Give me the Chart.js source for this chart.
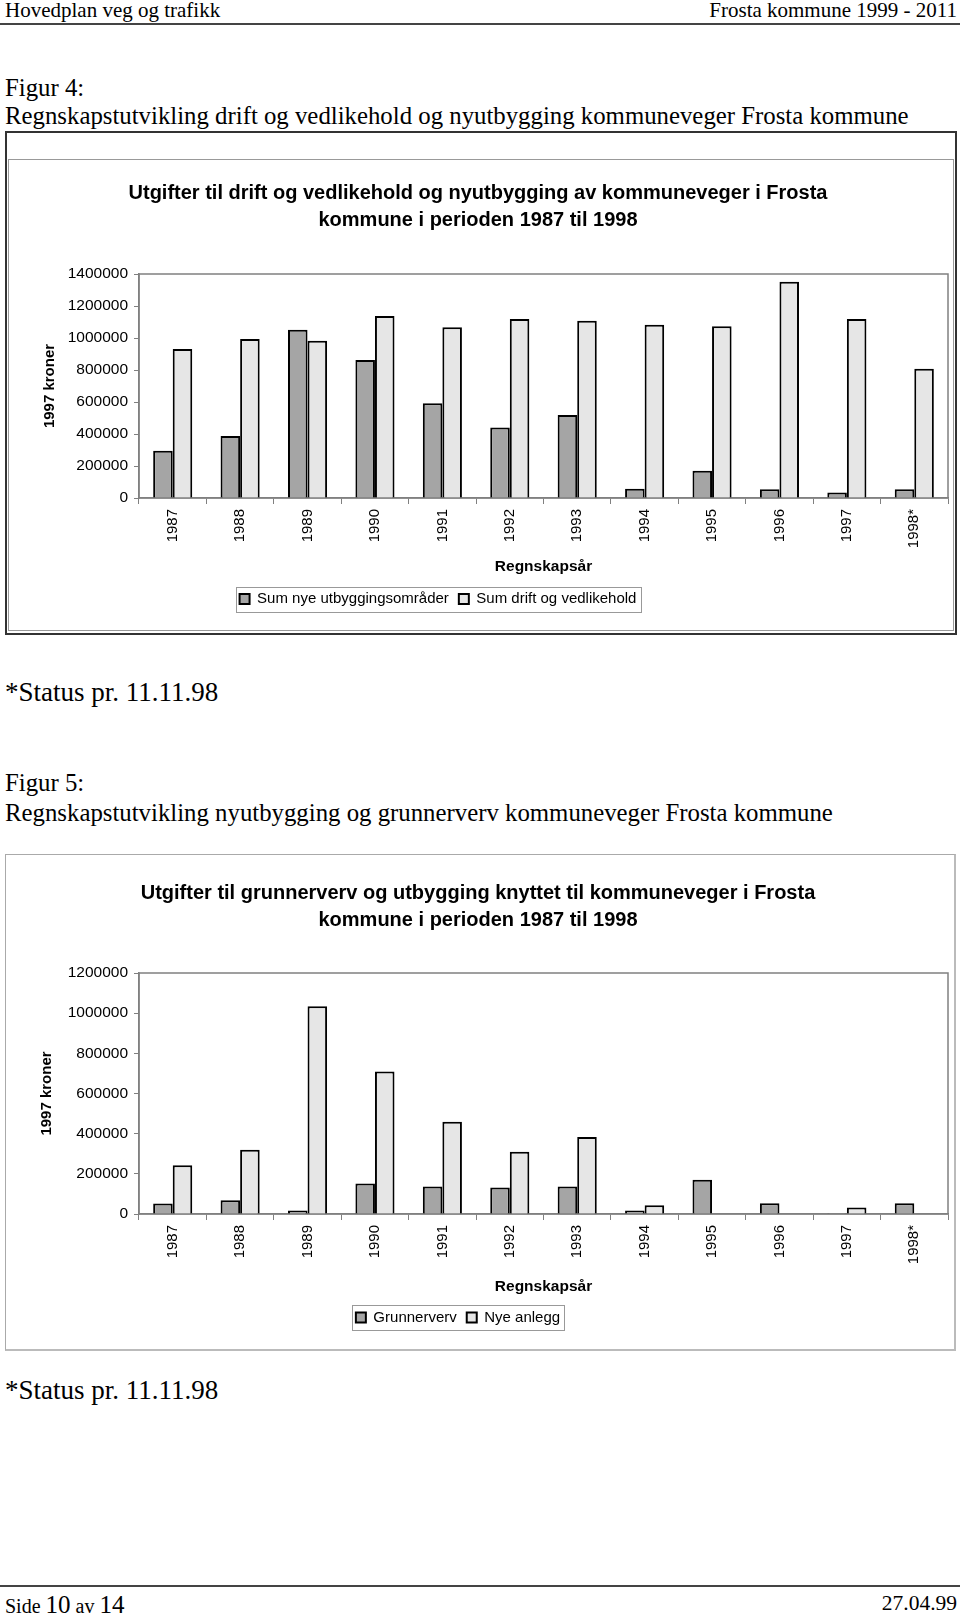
<!DOCTYPE html>
<html>
<head>
<meta charset="utf-8">
<script src="https://cdn.jsdelivr.net/npm/chart.js@4.4.0/dist/chart.umd.min.js"></script>
<style>
    body { margin: 0; width: 960px; height: 1613px; position: relative; overflow: hidden; background: #fff; color: #000;
           font-family: 'Liberation Serif', 'Times New Roman', serif; }
    .txt { position: absolute; white-space: nowrap; line-height: 1; }
    .rule { position: absolute; left: 0; width: 960px; height: 2px; background: #444; }
    canvas { position: absolute; }
</style>
</head>
<body>
<div class="txt" style="left:5px;top:0px;font-size:21px">Hovedplan veg og trafikk</div>
<div class="txt" style="right:3px;top:0px;font-size:21px">Frosta kommune 1999 - 2011</div>
<div class="rule" style="top:23px"></div>

<div class="txt" style="left:5px;top:76px;font-size:24.8px">Figur 4:</div>
<div class="txt" style="left:5px;top:104px;font-size:24.8px">Regnskapstutvikling drift og vedlikehold og nyutbygging kommuneveger Frosta kommune</div>

<div style="position:absolute;left:5px;top:131px;width:948px;height:500px;border:2px solid #333"></div>
<div style="position:absolute;left:8px;top:159px;width:944px;height:470px;border:1px solid #999"></div>
<canvas id="chart1" width="946" height="470" style="left:8px;top:160px"></canvas>

<div class="txt" style="left:5px;top:679px;font-size:27px">*Status pr. 11.11.98</div>

<div class="txt" style="left:5px;top:771px;font-size:24.8px">Figur 5:</div>
<div class="txt" style="left:5px;top:801px;font-size:24.8px">Regnskapstutvikling nyutbygging og grunnerverv kommuneveger Frosta kommune</div>

<div style="position:absolute;left:5px;top:854px;width:948px;height:494px;border:1px solid #aaa;border-right:2px solid #bbb;border-bottom:2px solid #bbb"></div>
<canvas id="chart2" width="946" height="490" style="left:8px;top:856px"></canvas>

<div class="txt" style="left:5px;top:1377px;font-size:27px">*Status pr. 11.11.98</div>

<div class="rule" style="top:1585px"></div>
<div class="txt" style="left:5px;top:1592px;font-size:20px">Side <span style="font-size:25px">10</span> av <span style="font-size:25px">14</span></div>
<div class="txt" style="right:3px;top:1593px;font-size:21.5px">27.04.99</div>

<script>
// Regnskapsår (x-akse)
const years = ['1987', '1988', '1989', '1990', '1991', '1992', '1993', '1994', '1995', '1996', '1997', '1998*'];

// Figur 4 - 1997 kroner
const nyeUtbygging = [295000, 387000, 1052000, 862000, 592000, 440000, 519000, 58000, 171000, 54000, 35000, 54000];
const driftVedlikehold = [931000, 994000, 983000, 1137000, 1067000, 1119000, 1108000, 1083000, 1073000, 1352000, 1119000, 808000];
const yTicks1 = [0, 200000, 400000, 600000, 800000, 1000000, 1200000, 1400000];

// Figur 5 - 1997 kroner
const grunnerverv = [52000, 68000, 18000, 152000, 137000, 132000, 137000, 17000, 170000, 53000, 4000, 53000];
const nyeAnlegg = [243000, 320000, 1035000, 709000, 459000, 310000, 384000, 43000, 0, 0, 32000, 0];
const yTicks2 = [0, 200000, 400000, 600000, 800000, 1000000, 1200000];

const darkGrey = '#a5a5a5';
const lightGrey = '#e6e6e6';
const axisGrey = '#808080';

Chart.defaults.font.family = "'Liberation Sans', Arial, sans-serif";
Chart.defaults.color = '#000';

// Ramme rundt plotområdet (grå, som i Excel)
const plotFrame = {
    id: 'plotFrame',
    beforeDatasetsDraw(chart) {
        const a = chart.chartArea;
        const ctx = chart.ctx;
        ctx.save();
        ctx.strokeStyle = axisGrey;
        ctx.lineWidth = 1.5;
        ctx.strokeRect(a.left, a.top, a.right - a.left, a.bottom - a.top);
        ctx.restore();
    }
};

// Flytt forklaringen og tegn en boks rundt den
const legendBox = {
    id: 'legendBox',
    afterLayout(chart, args, opts) {
        const lg = chart.legend;
        if (!lg || opts.centerX === undefined) return;
        const w = lg.right - lg.left;
        lg.left = opts.centerX - w / 2;
        lg.right = lg.left + w;
    },
    afterDraw(chart) {
        const boxes = chart.legend && chart.legend.legendHitBoxes;
        if (!boxes || !boxes.length) return;
        const left = Math.min(...boxes.map(b => b.left)) - 4;
        const right = Math.max(...boxes.map(b => b.left + b.width)) + 4;
        const top = Math.min(...boxes.map(b => b.top)) - 5;
        const bottom = Math.max(...boxes.map(b => b.top + b.height)) + 5;
        const ctx = chart.ctx;
        ctx.save();
        ctx.strokeStyle = '#999';
        ctx.lineWidth = 1;
        ctx.strokeRect(Math.round(left) + 0.5, Math.round(top) + 0.5, Math.round(right - left), Math.round(bottom - top));
        ctx.restore();
    }
};

function makeChart(id, cfg) {
    return new Chart(document.getElementById(id), {
        type: 'bar',
        data: {
            labels: years,
            datasets: [{
                label: cfg.names[0],
                data: cfg.series[0],
                backgroundColor: darkGrey,
                borderColor: '#000',
                borderWidth: 2,
                borderSkipped: 'start',
                categoryPercentage: 0.58,
                barPercentage: 1.0
            }, {
                label: cfg.names[1],
                data: cfg.series[1],
                backgroundColor: lightGrey,
                borderColor: '#000',
                borderWidth: 2,
                borderSkipped: 'start',
                categoryPercentage: 0.58,
                barPercentage: 1.0
            }]
        },
        options: {
            responsive: false,
            animation: false,
            layout: { padding: { left: 0, right: 6, top: 0, bottom: cfg.padBottom } },
            scales: {
                x: {
                    grid: { offset: true, drawOnChartArea: false, color: axisGrey, tickLength: 6, lineWidth: 1 },
                    border: { color: axisGrey, width: 1.5 },
                    ticks: { minRotation: 90, maxRotation: 90, padding: 5, font: { size: 15 } },
                    title: { display: true, text: 'Regnskapsår', font: { size: 15.5, weight: 'bold' },
                             padding: { top: 4, bottom: cfg.xTitleBottom } },
                    afterFit: s => { s.height = cfg.xHeight; }
                },
                y: {
                    min: 0,
                    max: cfg.yTicks[cfg.yTicks.length - 1],
                    afterBuildTicks: s => { s.ticks = cfg.yTicks.map(v => ({ value: v })); },
                    grid: { drawOnChartArea: false, color: axisGrey, tickLength: 5 },
                    border: { color: axisGrey, width: 1.5 },
                    ticks: { padding: 6, font: { size: 15.5 }, callback: v => String(v) },
                    title: { display: true, text: '1997 kroner', font: { size: 15, weight: 'bold' },
                             padding: { top: cfg.yTitleTop, bottom: 0 } },
                    afterFit: s => { s.width = 131; }
                }
            },
            plugins: {
                title: {
                    display: true,
                    text: cfg.title,
                    font: { size: 20, weight: 'bold', lineHeight: 1.35 },
                    padding: { top: cfg.titleTop, bottom: cfg.titleBottom }
                },
                legend: {
                    position: 'bottom',
                    labels: { boxWidth: 10, boxHeight: 10, padding: 10, font: { size: 15 } }
                },
                legendBox: { centerX: cfg.legendCenter },
                tooltip: { enabled: false }
            }
        },
        plugins: [plotFrame, legendBox]
    });
}

makeChart('chart1', {
    title: ['Utgifter til drift og vedlikehold og nyutbygging av kommuneveger i Frosta',
            'kommune i perioden 1987 til 1998'],
    names: ['Sum nye utbyggingsområder', 'Sum drift og vedlikehold'],
    series: [nyeUtbygging, driftVedlikehold],
    yTicks: yTicks1,
    titleTop: 19.5, titleBottom: 40.5,
    xHeight: 83.5, xTitleBottom: 5.5,
    padBottom: 13.5,
    yTitleTop: 33,
    legendCenter: 430
});

makeChart('chart2', {
    title: ['Utgifter til grunnerverv og utbygging knyttet til kommuneveger i Frosta',
            'kommune i perioden 1987 til 1998'],
    names: ['Grunnerverv', 'Nye anlegg'],
    series: [grunnerverv, nyeAnlegg],
    yTicks: yTicks2,
    titleTop: 23.5, titleBottom: 39.5,
    xHeight: 86, xTitleBottom: 4,
    padBottom: 11,
    yTitleTop: 30,
    legendCenter: 450
});
</script>
</body>
</html>
